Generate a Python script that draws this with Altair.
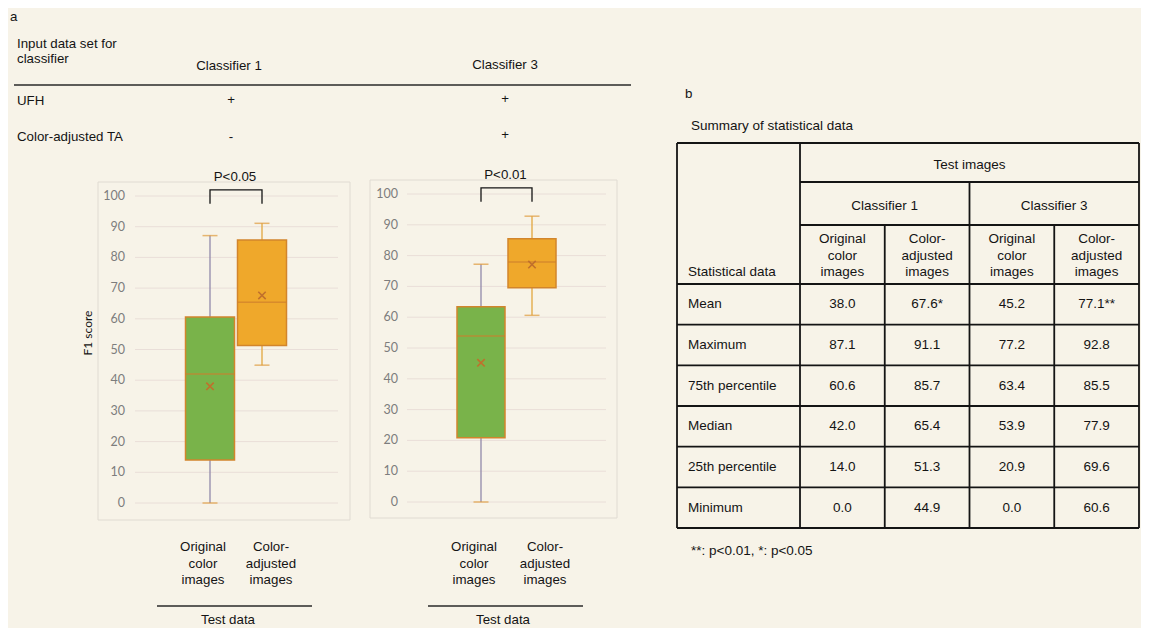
import altair as alt
import pandas as pd

# ------------------------------------------------------------------ data
classifiers = ["Classifier 1", "Classifier 3"]
categories = ["Original color images", "Color-adjusted images"]
category_lines = ["Original\ncolor\nimages", "Color-\nadjusted\nimages"]
stat_names = ["Mean", "Maximum", "75th percentile", "Median", "25th percentile", "Minimum"]
# columns: C1 original, C1 colour-adjusted, C3 original, C3 colour-adjusted
mean_vals = [38.0, 67.6, 45.2, 77.1]
max_vals = [87.1, 91.1, 77.2, 92.8]
q3_vals = [60.6, 85.7, 63.4, 85.5]
median_vals = [42.0, 65.4, 53.9, 77.9]
q1_vals = [14.0, 51.3, 20.9, 69.6]
min_vals = [0.0, 44.9, 0.0, 60.6]
mean_sig = ["", "*", "", "**"]
p_labels = ["P<0.05", "P<0.01"]
input_rows = ["UFH", "Color-adjusted TA"]
ufh_flags = ["+", "+"]
ta_flags = ["-", "+"]
y_ticks = [0, 10, 20, 30, 40, 50, 60, 70, 80, 90, 100]
footnote = "**: p<0.01, *: p<0.05"

# ------------------------------------------------------------------ style / layout
M = 8  # page margin


def px(v):
    return v - M


SANS = "Liberation Sans, Arial, sans-serif"
XL = "Lato, Open Sans, sans-serif"
FS = 13.3
INK = "#141414"
BG = "#f7f3e8"
GREEN = "#79b34a"
ORANGE = "#efa82b"
BOX_EDGE = "#d2852c"
MEDIAN = "#cf7f2c"
MEAN_MARK = "#c0702c"
WHISK = ["#9189aa", "#e2a63e"]
CAP = "#de9a3c"
GRID = "#e9ded8"
FRAME = "#e0dbd2"
TICKLAB = "#7d7d7d"

one = pd.DataFrame({"k": [0]})


def label(text, x, y, align="left", size=FS, color=INK, font=SANS, angle=0, lh=None, baseline="middle"):
    kw = dict(align=align, baseline=baseline, fontSize=size, color=color, font=font)
    if angle:
        kw["angle"] = angle
    if lh:
        kw["lineHeight"] = lh
        kw["lineBreak"] = "\n"
    return alt.Chart(pd.DataFrame({"t": [text]})).mark_text(**kw).encode(
        x=alt.value(px(x)), y=alt.value(px(y)), text="t:N")


def hline(x1, x2, y, w=1.2, color=INK):
    return alt.Chart(one).mark_rule(color=color, strokeWidth=w).encode(
        x=alt.value(px(x1)), x2=alt.value(px(x2)), y=alt.value(px(y)))


# ------------------------------------------------------------------ part a header
header_layers = [
    label("a", 10, 17),
    label("Input data set for\nclassifier", 17, 44, lh=14.5),
    label(classifiers[0], 229, 66, align="center"),
    label(classifiers[1], 505, 65, align="center"),
    hline(14, 631, 85, w=1.3, color="#2a2a2a"),
    label(input_rows[0], 17, 101),
    label(input_rows[1], 17, 137),
    label(ufh_flags[0], 231, 100, align="center"),
    label(ufh_flags[1], 505, 99, align="center"),
    label(ta_flags[0], 231, 137, align="center"),
    label(ta_flags[1], 505, 135, align="center"),
]

# ------------------------------------------------------------------ box plot panels
panel_layout = [
    dict(frame=(98, 350, 182, 520), grid=(135, 338), y0=503, y100=196, lab_x=125,
         c=(210, 262), bw=49, foot=(203, 271), foot_line=(157, 312), test_x=228),
    dict(frame=(370, 617, 180, 518), grid=(407, 606), y0=502, y100=194, lab_x=398,
         c=(481, 532), bw=48, foot=(474, 545), foot_line=(428, 583), test_x=503),
]


def panel(i, L):
    cols = [2 * i, 2 * i + 1]
    df = pd.DataFrame({
        "cat": categories,
        "mn": [min_vals[j] for j in cols],
        "q1": [q1_vals[j] for j in cols],
        "med": [median_vals[j] for j in cols],
        "q3": [q3_vals[j] for j in cols],
        "mx": [max_vals[j] for j in cols],
        "mean": [mean_vals[j] for j in cols],
    })
    step = L["c"][1] - L["c"][0]
    pin = 1 - L["bw"] / step
    xs = alt.Scale(domain=categories, range=[px(L["c"][0] - step / 2), px(L["c"][1] + step / 2)],
                   paddingInner=pin, paddingOuter=pin / 2)
    ys = alt.Scale(domain=[0, 100], range=[px(L["y0"]), px(L["y100"])], nice=False, zero=False)

    def X(f="cat"):
        return alt.X(f"{f}:N", scale=xs, axis=None, title=None)

    def Y(f):
        return alt.Y(f"{f}:Q", scale=ys, axis=None, title=None)

    fx0, fx1, fy0, fy1 = L["frame"]
    ticks = pd.DataFrame({"v": y_ticks})
    layers = [
        alt.Chart(one).mark_rect(fill=BG, stroke=FRAME, strokeWidth=1).encode(
            x=alt.value(px(fx0)), x2=alt.value(px(fx1)), y=alt.value(px(fy0)), y2=alt.value(px(fy1))),
        alt.Chart(ticks).mark_rule(color=GRID, strokeWidth=1).encode(
            x=alt.value(px(L["grid"][0])), x2=alt.value(px(L["grid"][1])), y=Y("v")),
        alt.Chart(ticks).mark_text(align="right", baseline="middle", font=XL, fontSize=12.5,
                                   color=TICKLAB).encode(
            x=alt.value(px(L["lab_x"])), y=Y("v"), text="v:Q"),
        alt.Chart(df).mark_rule(strokeWidth=1.3).encode(
            x=X(), y=Y("mn"), y2="mx:Q",
            stroke=alt.Stroke("cat:N", scale=alt.Scale(domain=categories, range=WHISK), legend=None)),
        alt.Chart(df).mark_tick(orient="horizontal", size=15, thickness=1.5, color=CAP).encode(
            x=X(), y=Y("mx")),
        alt.Chart(df).mark_tick(orient="horizontal", size=15, thickness=1.5, color=CAP).encode(
            x=X(), y=Y("mn")),
        alt.Chart(df).mark_bar(stroke=BOX_EDGE, strokeWidth=1.5).encode(
            x=X(), y=Y("q1"), y2="q3:Q",
            fill=alt.Fill("cat:N", scale=alt.Scale(domain=categories, range=[GREEN, ORANGE]), legend=None)),
        alt.Chart(df).mark_tick(orient="horizontal", size=L["bw"], thickness=1.4, color=MEDIAN).encode(
            x=X(), y=Y("med")),
        alt.Chart(df).mark_point(shape="M-1,-1L1,1M-1,1L1,-1", size=55, filled=False,
                                 strokeWidth=1.6, color=MEAN_MARK, opacity=1).encode(
            x=X(), y=Y("mean")),
    ]
    # significance bracket
    br = pd.DataFrame({"cat": [categories[0], categories[0], categories[1], categories[1]],
                       "v": [97.5, 102, 102, 97.5], "o": [0, 1, 2, 3]})
    layers.append(alt.Chart(br).mark_line(color=INK, strokeWidth=1.3).encode(
        x=X(), y=Y("v"), order="o:Q"))
    pt = pd.DataFrame({"cat": [categories[0]], "v": [106.2], "t": [p_labels[i]]})
    layers.append(alt.Chart(pt).mark_text(dx=step / 2 - 1, fontSize=FS, font=SANS, color=INK,
                                          baseline="middle").encode(x=X(), y=Y("v"), text="t:N"))
    # x labels and "Test data"
    for k in range(2):
        layers.append(label(category_lines[k], L["foot"][k], 547, align="center", lh=16.5))
    layers.append(hline(L["foot_line"][0], L["foot_line"][1], 606, w=1.3, color="#2a2a2a"))
    layers.append(label("Test data", L["test_x"], 620, align="center"))
    if i == 0:
        layers.append(label("F1 score", 88, 333, align="center", font=XL, size=12, angle=270))
    return alt.layer(*layers)


panels = [panel(i, L) for i, L in enumerate(panel_layout)]

# ------------------------------------------------------------------ part b table
TL, TR, TT, TB = 677, 1139, 143, 528
C0 = 800
tx = alt.Scale(domain=[0, 4], range=[px(C0), px(TR)], nice=False, zero=False)
ty = alt.Scale(domain=[0, 6], range=[px(284), px(TB)], nice=False, zero=False)

rows = [mean_vals, max_vals, q3_vals, median_vals, q1_vals, min_vals]
cells = []
for r, (name, vals) in enumerate(zip(stat_names, rows)):
    for c, v in enumerate(vals):
        txt = f"{v:.1f}" + (mean_sig[c] if name == "Mean" else "")
        cells.append({"r": r, "c": c, "t": txt})
cells = pd.DataFrame(cells)
row_df = pd.DataFrame({"r": list(range(len(stat_names))), "t": stat_names})
TX = lambda f: alt.X(f"{f}:Q", scale=tx, axis=None, title=None)
TY = lambda f: alt.Y(f"{f}:Q", scale=ty, axis=None, title=None)

LW = 1.8
table_layers = [
    label("b", 685, 94),
    label("Summary of statistical data", 691, 126, size=13.5),
    # horizontal lines
    alt.Chart(pd.DataFrame({"b": list(range(len(stat_names) + 1))})).mark_rule(
        color=INK, strokeWidth=LW).encode(x=alt.value(px(TL)), x2=alt.value(px(TR)), y=TY("b")),
    hline(TL, TR, TT, w=LW),
    hline(C0, TR, 182, w=LW),
    hline(C0, TR, 225, w=LW),
    # vertical lines
    alt.Chart(one).mark_rule(color=INK, strokeWidth=LW).encode(
        x=alt.value(px(TL)), y=alt.value(px(TT)), y2=alt.value(px(TB))),
    alt.Chart(pd.DataFrame({"b": [0, 4]})).mark_rule(color=INK, strokeWidth=LW).encode(
        x=TX("b"), y=alt.value(px(TT)), y2=alt.value(px(TB))),
    alt.Chart(pd.DataFrame({"b": [2]})).mark_rule(color=INK, strokeWidth=LW).encode(
        x=TX("b"), y=alt.value(px(182)), y2=alt.value(px(TB))),
    alt.Chart(pd.DataFrame({"b": [1, 3]})).mark_rule(color=INK, strokeWidth=LW).encode(
        x=TX("b"), y=alt.value(px(225)), y2=alt.value(px(TB))),
    # header texts
    alt.Chart(pd.DataFrame({"c": [2], "t": ["Test images"]})).mark_text(
        fontSize=13.5, font=SANS, color=INK, baseline="middle").encode(
        x=TX("c"), y=alt.value(px(165)), text="t:N"),
    alt.Chart(pd.DataFrame({"c": [1, 3], "t": classifiers})).mark_text(
        fontSize=13.5, font=SANS, color=INK, baseline="middle").encode(
        x=TX("c"), y=alt.value(px(206)), text="t:N"),
    alt.Chart(pd.DataFrame({"c": [0, 1, 2, 3], "t": category_lines * 2})).transform_calculate(
        xc="datum.c + 0.5").mark_text(
        fontSize=13.5, font=SANS, color=INK, baseline="middle", lineBreak="\n", lineHeight=16.5).encode(
        x=TX("xc"), y=alt.value(px(239)), text="t:N"),
    label("Statistical data", 688, 272, size=13.5),
    # body
    alt.Chart(row_df).transform_calculate(yc="datum.r + 0.5").mark_text(
        align="left", fontSize=13.5, font=SANS, color=INK, baseline="middle").encode(
        x=alt.value(px(688)), y=TY("yc"), text="t:N"),
    alt.Chart(cells).transform_calculate(xc="datum.c + 0.5", yc="datum.r + 0.5").mark_text(
        fontSize=13.5, font=SANS, color=INK, baseline="middle").encode(
        x=TX("xc"), y=TY("yc"), text="t:N"),
    label(footnote, 691, 551, size=13.5),
]
table = alt.layer(*table_layers)

chart = alt.layer(*header_layers, *panels, table).resolve_scale(
    x="independent", y="independent"
).properties(
    width=1133, height=620, padding=0,
    autosize=alt.AutoSizeParams(type="none"),
    background=BG,
).configure_view(stroke=None)

chart.save("out.html", embed_options={"renderer": "svg", "actions": False})
